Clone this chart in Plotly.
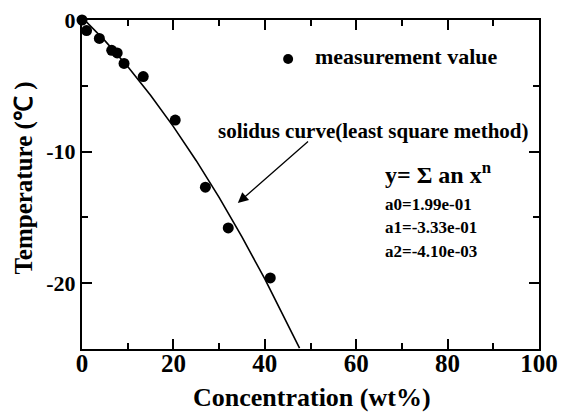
import plotly.graph_objects as go

# measured points
conc = [0.0, 1.0, 3.8, 6.5, 7.7, 9.2, 13.4, 20.4, 27.0, 32.0, 41.2]
temp = [0.0, -0.8, -1.4, -2.3, -2.5, -3.3, -4.3, -7.6, -12.7, -15.8, -19.6]

# solidus curve points
curve_x = [0, 5, 10, 15, 20, 25, 30, 35, 40, 45, 47.6]
curve_y = [0.2, -1.57, -3.54, -5.72, -8.10, -10.69, -13.48, -16.48, -19.68, -23.09, -24.94]

x_ticks = [0, 20, 40, 60, 80, 100]
y_ticks = [0, -10, -20]

SERIF = "Liberation Serif, Times New Roman, serif"

fig = go.Figure()
fig.add_trace(go.Scatter(x=curve_x, y=curve_y, mode="lines",
                         line=dict(color="black", width=1.6), showlegend=False,
                         hoverinfo="skip"))
fig.add_trace(go.Scatter(x=conc, y=temp, mode="markers",
                         marker=dict(color="black", size=11), showlegend=False,
                         cliponaxis=False))

# legend marker + text
fig.add_trace(go.Scatter(x=[45.1], y=[-2.96], mode="markers",
                         marker=dict(color="black", size=10), showlegend=False))
fig.add_annotation(x=50.5, y=-2.8, xref="x", yref="y", text="measurement value",
                   showarrow=False, xanchor="left", yanchor="middle",
                   font=dict(family=SERIF, size=22, color="black", weight="bold"))
fig.add_annotation(x=29.4, y=-8.4, xref="x", yref="y",
                   text="solidus curve(least square method)",
                   showarrow=False, xanchor="left", yanchor="middle",
                   font=dict(family=SERIF, size=21, color="black", weight="bold"))
# arrow
fig.add_annotation(x=34.1, y=-13.9, ax=49.9, ay=-9.1, xref="x", yref="y",
                   axref="x", ayref="y", text=" ", showarrow=True,
                   arrowhead=2, arrowsize=1.6, arrowwidth=1.3, arrowcolor="black",
                   font=dict(size=2))
fig.add_annotation(x=65.9, y=-11.6, xref="x", yref="y",
                   text="y= Σ an x<sup>n</sup>",
                   showarrow=False, xanchor="left", yanchor="middle",
                   font=dict(family=SERIF, size=24, color="black", weight="bold"))
for i, t in enumerate(["a0=1.99e-01", "a1=-3.33e-01", "a2=-4.10e-03"]):
    fig.add_annotation(x=65.9, y=-14.0 - 1.8 * i, xref="x", yref="y", text=t,
                       showarrow=False, xanchor="left", yanchor="middle",
                       font=dict(family=SERIF, size=17, color="black", weight="bold"))

# axis titles (paper coords relative to plot area)
fig.add_annotation(x=0.503, y=-0.146, xref="paper", yref="paper", text="Concentration (wt%)",
                   showarrow=False, xanchor="center", yanchor="middle",
                   font=dict(family=SERIF, size=26, color="black", weight="bold"))
fig.add_annotation(x=-0.127, y=0.521, xref="paper", yref="paper", text="Temperature (℃ )",
                   showarrow=False, xanchor="center", yanchor="middle", textangle=-90,
                   font=dict(family=SERIF, size=25, color="black", weight="bold"))

axis_common = dict(showgrid=False, zeroline=False, showline=True, linecolor="black",
                   linewidth=2, mirror="allticks", ticks="inside", ticklen=10,
                   tickwidth=1.5, tickcolor="black", automargin=False)

fig.update_xaxes(range=[0, 100], tickvals=x_ticks, ticktext=[str(v) for v in x_ticks],
                 minor=dict(dtick=10, ticks="inside", ticklen=6, tickwidth=1.5, tickcolor="black"),
                 tickfont=dict(family=SERIF, size=25, color="black", weight="bold"),
                 ticklabelstandoff=-9,
                 **axis_common)
fig.update_yaxes(range=[-25, 0], tickvals=y_ticks, ticktext=[str(v) for v in y_ticks],
                 minor=dict(dtick=5, ticks="inside", ticklen=6, tickwidth=1.5, tickcolor="black"),
                 tickfont=dict(family=SERIF, size=22, color="black", weight="bold"),
                 **axis_common)

fig.update_layout(width=562, height=417, margin=dict(l=82, r=23, t=20, b=68),
                  paper_bgcolor="white", plot_bgcolor="white")
# remove the default 8px page margin so the figure sits at the window's corner
fig.write_html("out.html", config={"displayModeBar": False},
               post_script="document.body.style.margin='0';document.body.style.overflow='hidden';")
